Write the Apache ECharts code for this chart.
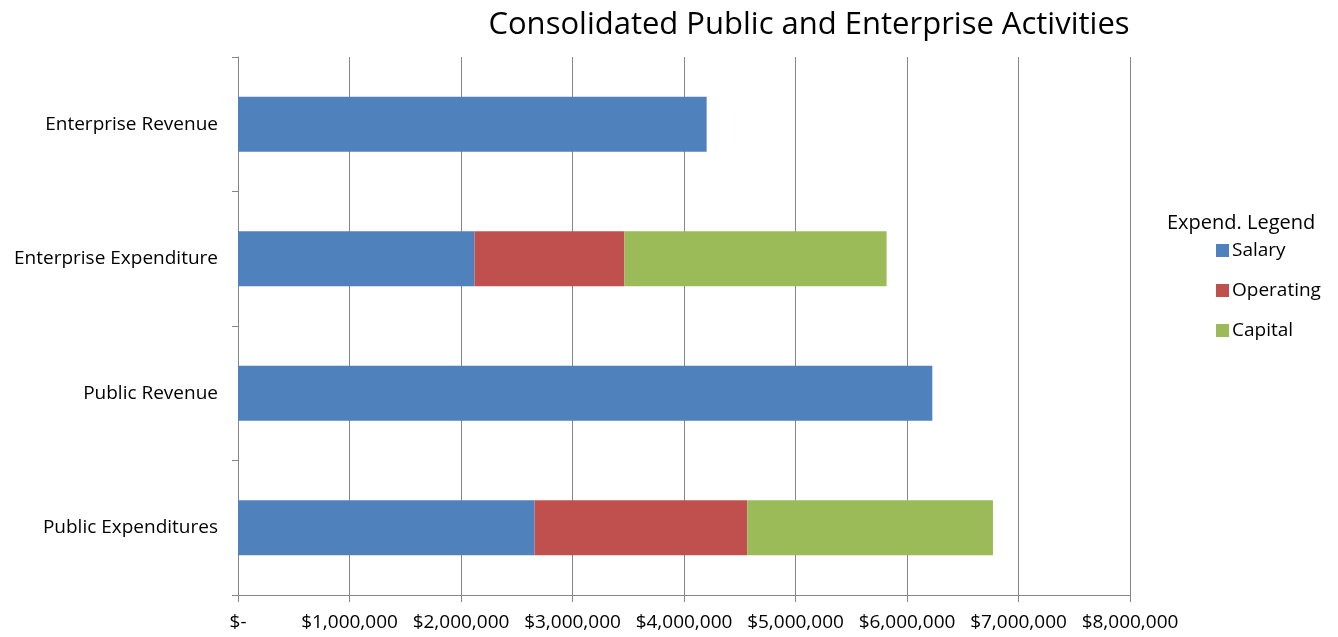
<!DOCTYPE html>
<html>
<head>
<meta charset="utf-8">
<script src="https://cdn.jsdelivr.net/npm/echarts@6/dist/echarts.min.js"></script>
<style>html,body{margin:0;padding:0;background:#fff}#c{width:1338px;height:637px}</style>
</head>
<body>
<div id="c"></div>
<script>
var categories = ['Public Expenditures', 'Public Revenue', 'Enterprise Expenditure', 'Enterprise Revenue'];
var revenue   = [null, 6227000, null, 4203000];
var salary    = [2660000, null, 2121000, null];
var operating = [1907000, null, 1345000, null];
var capital   = [2204000, null, 2351000, null];
var xTicks = [0, 1000000, 2000000, 3000000, 4000000, 5000000, 6000000, 7000000, 8000000];

var FONT = '"Open Sans", "Liberation Sans", sans-serif';
var chart = echarts.init(document.getElementById('c'), null, {renderer: 'canvas'});
function fmt(v) {
  if (v === 0) return '$-';
  return '$' + v.toString().replace(/\B(?=(\d{3})+(?!\d))/g, ',');
}
var barW = 55;
chart.setOption({
  animation: false,
  backgroundColor: '#ffffff',
  title: [
    {text: 'Consolidated Public and Enterprise Activities', left: 804, top: 5, textAlign: 'center',
     textStyle: {fontFamily: FONT, fontSize: 31, fontWeight: 'normal', color: '#000'}},
    {text: 'Expend. Legend', left: 1162, top: 208,
     textStyle: {fontFamily: FONT, fontSize: 20, fontWeight: 'normal', color: '#000'}}
  ],
  legend: {
    data: ['Salary', 'Operating', 'Capital'],
    orient: 'vertical', left: 1211, top: 236, itemGap: 21, itemWidth: 13, itemHeight: 13,
    icon: 'rect',
    textStyle: {fontFamily: FONT, fontSize: 19, color: '#000', padding: [0, 0, 0, -2]}
  },
  grid: {left: 238, right: 208, top: 57, bottom: 42, containLabel: false},
  xAxis: {
    type: 'value', min: 0, max: 8000000, interval: 1000000,
    axisLine: {show: true, lineStyle: {color: '#868686', width: 1}},
    axisTick: {show: true, length: 7, lineStyle: {color: '#868686'}},
    splitLine: {show: true, lineStyle: {color: '#868686', width: 1}},
    axisLabel: {fontFamily: FONT, fontSize: 19, color: '#000', margin: 18,
      formatter: function (v) { return xTicks.indexOf(v) >= 0 ? fmt(v) : ''; }}
  },
  yAxis: {
    type: 'category', data: categories,
    axisLine: {show: true, lineStyle: {color: '#868686', width: 1}},
    axisTick: {show: true, length: 6, alignWithLabel: false, lineStyle: {color: '#868686'}},
    axisLabel: {fontFamily: FONT, fontSize: 19, color: '#000', margin: 20}
  },
  series: [
    {name: 'Revenue', type: 'bar', stack: 'a', data: revenue, barWidth: barW,
     itemStyle: {color: '#4F81BD'}},
    {name: 'Salary', type: 'bar', stack: 'a', data: salary, barWidth: barW,
     itemStyle: {color: '#4F81BD'}},
    {name: 'Operating', type: 'bar', stack: 'a', data: operating, barWidth: barW,
     itemStyle: {color: '#C0504D'}},
    {name: 'Capital', type: 'bar', stack: 'a', data: capital, barWidth: barW,
     itemStyle: {color: '#9BBB59'}}
  ]
});
</script>
</body>
</html>
